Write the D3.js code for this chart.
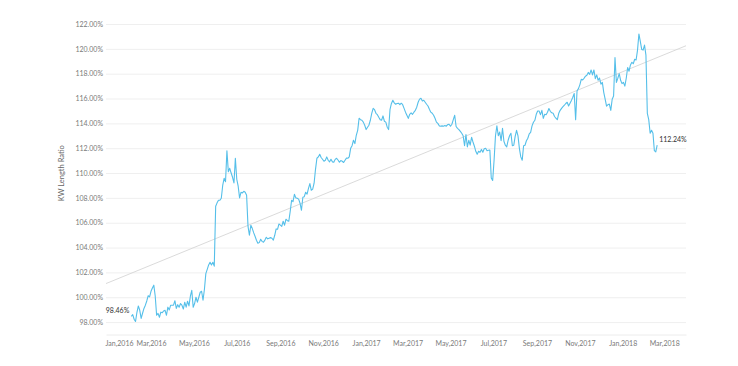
<!DOCTYPE html>
<html><head><meta charset="utf-8">
<script src="https://cdn.jsdelivr.net/npm/d3@7"></script>
<style>body{margin:0;background:#fff}svg{display:block}</style>
</head><body><svg id="c" width="738" height="366"></svg>
<script>
// ---- data ----
const startDate = "2016-02-02";
const stepDays = 2;
const values = [
  98.46, 98.6, 98.23, 98.05, 98.79, 99.3, 98.95, 98.3, 98.71, 99.1,
  99.36, 99.7, 100.12, 100.03, 100.48, 100.75, 100.97, 100.1, 98.55, 98.7,
  98.39, 98.8, 98.75, 98.9, 98.95, 98.55, 99.2, 98.98, 99.36, 99.36,
  99.36, 99.72, 99.1, 99.4, 99.2, 99.49, 99.36, 99.05, 99.6, 99.2,
  99.68, 99.3, 100.08, 100.56, 99.2, 99.49, 100.0, 99.6, 100.0, 100.4,
  100.48, 99.76, 100.64, 101.9, 102.25, 102.6, 102.82, 102.6, 102.82, 102.5,
  107.33, 107.6, 107.81, 107.81, 107.97, 109.0, 109.58, 109.3, 111.8, 110.1,
  110.38, 110.0, 109.66, 109.2, 111.19, 109.5, 108.94, 108.0, 108.45, 108.4,
  108.53, 108.45, 108.21, 105.7, 104.99, 105.8, 105.55, 105.2, 104.91, 104.59,
  104.35, 104.4, 104.67, 104.5, 104.43, 104.6, 104.83, 104.7, 104.75, 104.8,
  104.75, 104.6, 104.99, 105.5, 105.47, 105.9, 105.8, 105.7, 106.12, 105.8,
  106.28, 106.16, 106.12, 106.9, 107.81, 107.7, 108.29, 108.0, 107.97, 107.9,
  107.57, 107.0, 108.05, 108.1, 108.45, 108.3, 108.77, 109.15, 108.61, 108.7,
  109.18, 110.3, 111.19, 111.3, 111.51, 111.25, 111.11, 110.95, 111.03, 111.3,
  111.03, 110.9, 111.11, 110.9, 110.87, 111.1, 111.19, 111.05, 110.87, 111.0,
  110.95, 110.85, 111.03, 111.2, 111.19, 111.3, 111.99, 112.2, 112.64, 112.37,
  113.04, 113.44, 114.41, 114.3, 114.25, 114.1, 113.85, 113.5, 113.69, 113.85,
  114.25, 114.8, 115.21, 115.1, 114.81, 114.7, 114.49, 114.3, 114.25, 114.6,
  114.17, 114.1, 113.69, 113.5, 115.13, 115.6, 115.86, 115.65, 115.54, 115.6,
  115.62, 115.5, 115.62, 115.5, 115.21, 114.9, 114.65, 114.4, 114.73, 114.85,
  114.73, 114.9, 115.05, 115.3, 115.7, 115.95, 116.02, 115.8, 115.86, 115.7,
  115.54, 115.4, 115.13, 114.9, 114.81, 114.65, 114.41, 114.1, 114.0, 113.8,
  113.77, 113.8, 113.77, 113.83, 113.77, 113.9, 113.93, 113.77, 113.93, 114.3,
  114.65, 113.75, 113.6, 113.5, 113.36, 113.2, 113.0, 112.2, 113.1, 112.1,
  112.64, 112.25, 112.88, 112.5, 112.16, 111.75, 111.51, 111.75, 111.67, 111.9,
  111.67, 111.95, 111.99, 111.8, 111.83, 111.85, 109.6, 109.4, 111.03, 113.0,
  113.8, 113.0, 113.3, 112.6, 113.6, 112.56, 112.24, 112.1, 112.64, 113.0,
  113.2, 112.2, 112.24, 112.95, 113.44, 113.0, 111.99, 111.3, 111.03, 112.2,
  112.24, 112.6, 112.8, 113.15, 113.28, 113.8, 114.09, 114.25, 114.73, 115.0,
  115.0, 114.7, 115.05, 114.4, 114.73, 114.69, 114.89, 115.2, 114.97, 114.85,
  114.81, 114.55, 114.41, 114.3, 114.81, 115.05, 115.21, 115.35, 115.46, 115.6,
  115.7, 115.4, 115.62, 115.85, 116.1, 116.4, 114.3, 116.6, 116.8, 117.1,
  117.55, 117.5, 117.63, 117.8, 117.87, 118.1, 117.95, 118.3, 117.9, 118.3,
  117.6, 117.9, 117.47, 117.65, 117.15, 117.3, 116.5, 115.95, 115.38, 115.5,
  115.55, 115.05, 115.94, 116.2, 119.3, 117.3, 117.63, 118.0, 117.47, 117.2,
  117.3, 117.0, 117.63, 118.5, 118.2, 118.7, 118.92, 118.8, 119.16, 119.1,
  119.88, 121.2, 120.6, 119.95, 119.9, 120.3, 119.5, 114.8, 114.3, 113.2,
  113.44, 113.2, 111.8, 111.7, 112.24
];
const yTicks = [98, 100, 102, 104, 106, 108, 110, 112, 114, 116, 118, 120, 122];
const xTickDates = ["2016-01-01","2016-03-01","2016-05-01","2016-07-01","2016-09-01","2016-11-01",
  "2017-01-01","2017-03-01","2017-05-01","2017-07-01","2017-09-01","2017-11-01","2018-01-01","2018-03-01"];
const trendDates = ["2015-12-28", "2018-04-01"];
const trendValues = [101.1, 120.25];
const xDomain = ["2015-12-28", "2018-04-01"];
const yDomain = [97, 122];
const yTitle = "KW Length Ratio";

// ---- build ----
const parse = d3.timeParse("%Y-%m-%d");
const t0 = parse(startDate);
const series = values.map((v, i) => ({date: d3.timeDay.offset(t0, i * stepDays), value: v}));
const trend = trendDates.map((d, i) => ({date: parse(d), value: trendValues[i]}));

const L = 106, R = 686, T = 24, B = 334.5;
const x = d3.scaleTime().domain(xDomain.map(parse)).range([L, R]);
const y = d3.scaleLinear().domain(yDomain).range([B, T]);
const svg = d3.select("#c");
const font = "Lato, 'Open Sans', sans-serif";

// gridlines + y labels
const yAxis = d3.axisLeft(y).tickValues(yTicks).tickSize(-(R - L)).tickPadding(3)
  .tickFormat(d => d3.format(".2f")(d) + "%");
const gy = svg.append("g").attr("transform", `translate(${L},0)`).call(yAxis);
gy.select(".domain").remove();
gy.selectAll(".tick line").attr("stroke", "#efefef").attr("stroke-width", 1);
gy.selectAll(".tick text").attr("fill", "#7a7a7a").style("font-family", font).style("font-size", "7px");

// x axis
const xAxis = d3.axisBottom(x).tickValues(xTickDates.map(parse)).tickSize(0).tickPadding(7)
  .tickFormat(d3.timeFormat("%b,%Y"));
const gx = svg.append("g").attr("transform", `translate(0,${B})`).call(xAxis);
gx.select(".domain").attr("stroke", "#ececec");
gx.selectAll(".tick text").attr("fill", "#7a7a7a").style("font-family", font).style("font-size", "7px");
gx.selectAll(".tick").filter((d, i) => i === 0).select("text").attr("text-anchor", "start").attr("x", L - 1 - x(parse(xTickDates[0])));

// y title
svg.append("text").attr("transform", `translate(64,${(T + B) / 2 - 6}) rotate(-90)`)
  .attr("text-anchor", "middle").attr("fill", "#666")
  .style("font-family", font).style("font-size", "7.5px").text(yTitle);

// trend line
svg.append("path").datum(trend)
  .attr("d", d3.line().x(d => x(d.date)).y(d => y(d.value)))
  .attr("fill", "none").attr("stroke", "#d6d6d6").attr("stroke-width", 0.9);

// series line
svg.append("path").datum(series)
  .attr("d", d3.line().x(d => x(d.date)).y(d => y(d.value)))
  .attr("fill", "none").attr("stroke", "#55bfe9").attr("stroke-width", 1.1)
  .attr("stroke-linejoin", "round");

// end labels
const first = series[0], last = series[series.length - 1];
svg.append("text").attr("x", x(first.date) - 2).attr("y", y(first.value) - 3)
  .attr("text-anchor", "end").attr("fill", "#333")
  .style("font-family", font).style("font-size", "7px").text(d3.format(".2f")(first.value) + "%");
svg.append("text").attr("x", x(last.date) + 2).attr("y", y(last.value) - 3)
  .attr("text-anchor", "start").attr("fill", "#333")
  .style("font-family", font).style("font-size", "7px").text(d3.format(".2f")(last.value) + "%");
</script>
</body></html>
